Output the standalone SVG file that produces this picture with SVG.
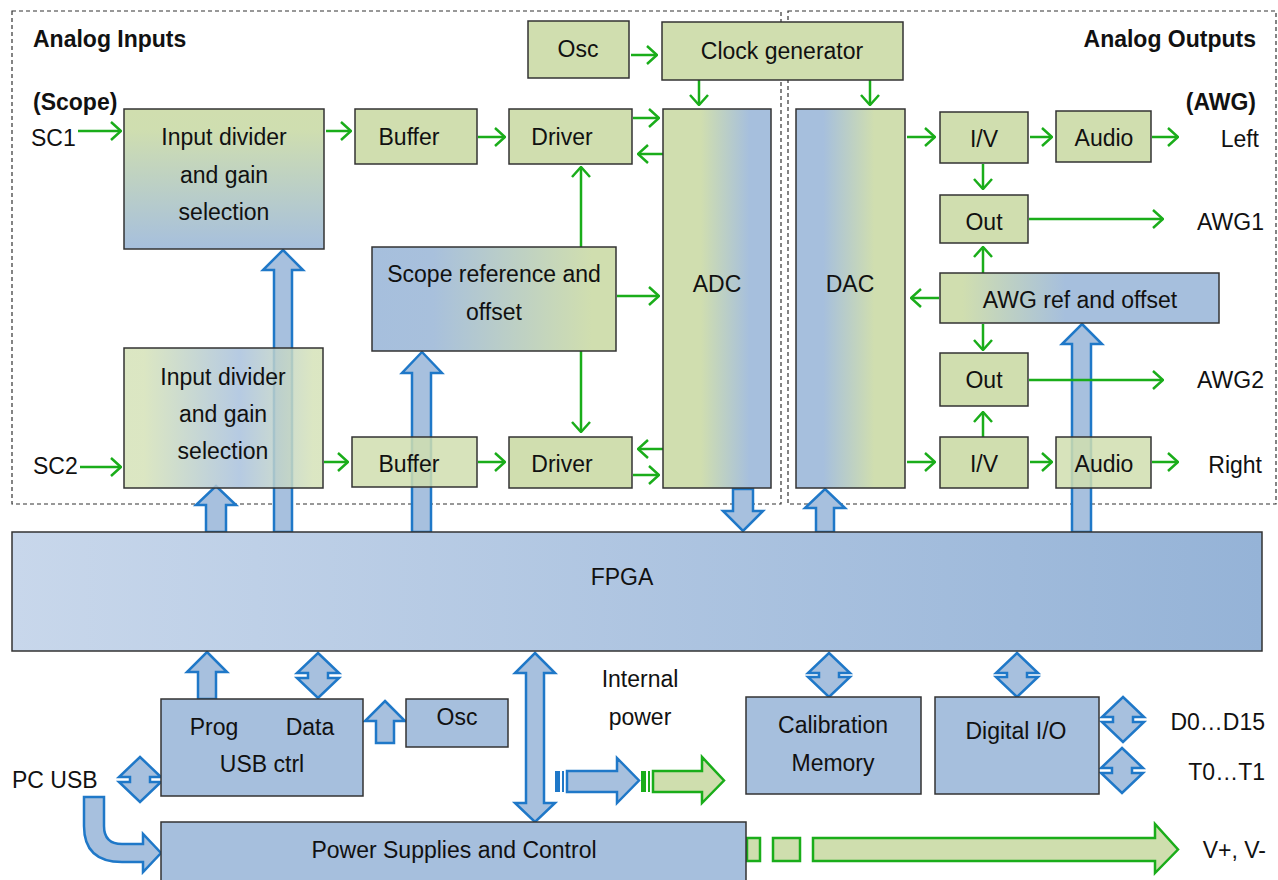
<svg xmlns="http://www.w3.org/2000/svg" width="1278" height="880" viewBox="0 0 1278 880">
<defs>
<style>
.t{font-family:"Liberation Sans",Arial,sans-serif;font-size:23px;fill:#111}
.m{text-anchor:middle}
.e{text-anchor:end}
.b{font-weight:bold;font-size:23px}
.box{stroke:#333;stroke-width:1.5}
.g{fill:#d0deaf}
.bl{fill:#a6bfdd}
.dash{fill:none;stroke:#333;stroke-width:1.2;stroke-dasharray:4 3}
.ga{fill:none;stroke:#1aad1a;stroke-width:2.5;marker-end:url(#ah)}
.ba{fill:#a7c0de;stroke:#1f78c8;stroke-width:2.5;stroke-linejoin:miter}
.gb{fill:#cfdeae;stroke:#1aad1a;stroke-width:2.5}
</style>
<marker id="ah" viewBox="0 0 12 20" refX="11" refY="10" markerWidth="12" markerHeight="20" markerUnits="userSpaceOnUse" orient="auto">
<path d="M1,1 L11,10 L1,19" fill="none" stroke="#1aad1a" stroke-width="2.5"/>
</marker>
<linearGradient id="gADC" x1="0" y1="0" x2="1" y2="0"><stop offset="0" stop-color="#d0deaf"/><stop offset="0.35" stop-color="#d0deaf"/><stop offset="0.8" stop-color="#a6bfdd"/><stop offset="1" stop-color="#a6bfdd"/></linearGradient>
<linearGradient id="gDAC" x1="0" y1="0" x2="1" y2="0"><stop offset="0" stop-color="#a6bfdd"/><stop offset="0.25" stop-color="#a6bfdd"/><stop offset="0.72" stop-color="#d0deaf"/><stop offset="1" stop-color="#d0deaf"/></linearGradient>
<linearGradient id="gScope" x1="0" y1="0" x2="1" y2="0"><stop offset="0" stop-color="#a6bfdd"/><stop offset="0.25" stop-color="#a8c0dc"/><stop offset="0.9" stop-color="#d0deaf"/><stop offset="1" stop-color="#d0deaf"/></linearGradient>
<linearGradient id="gAWG" x1="0" y1="0" x2="1" y2="0"><stop offset="0" stop-color="#d0deaf"/><stop offset="0.08" stop-color="#d0deaf"/><stop offset="0.45" stop-color="#a6bfdd"/><stop offset="1" stop-color="#a6bfdd"/></linearGradient>
<linearGradient id="gDiv1" x1="0" y1="0" x2="0" y2="1"><stop offset="0" stop-color="#d0deaf"/><stop offset="0.15" stop-color="#cfdeb0"/><stop offset="1" stop-color="#a6bfdd"/></linearGradient>
<linearGradient id="gDiv2" x1="0" y1="0" x2="1" y2="0"><stop offset="0" stop-color="#d5e2b8"/><stop offset="0.1" stop-color="#d5e2b8"/><stop offset="0.58" stop-color="#a9c1dd"/><stop offset="0.95" stop-color="#d5e2b8"/><stop offset="1" stop-color="#d5e2b8"/></linearGradient>
<linearGradient id="gFPGA" x1="0" y1="0" x2="1" y2="0"><stop offset="0" stop-color="#c8d7eb"/><stop offset="1" stop-color="#95b3d7"/></linearGradient>
</defs>
<rect width="1278" height="880" fill="#fff"/>

<g id="regions">
<rect class="dash" x="12" y="11" width="769" height="493"/>
<rect class="dash" x="788" y="11" width="488" height="493"/>
<text class="t b" x="33" y="47">Analog Inputs</text>
<text class="t b" x="33" y="110">(Scope)</text>
<text class="t b e" x="1256" y="47">Analog Outputs</text>
<text class="t b e" x="1256" y="110">(AWG)</text>
</g>

<g id="connectors">
<path class="ba" d="M283,250 L303,270 L292,270 L292,532 L274,532 L274,270 L263,270 Z"/>
<path class="ba" d="M216,486 L236,505 L226,505 L226,532 L206,532 L206,505 L196,505 Z"/>
<path class="ba" d="M422,352 L442,373 L431,373 L431,532 L412,532 L412,373 L402,373 Z"/>
<path class="ba" d="M733,489 L753,489 L753,511 L763,511 L743,531 L723,511 L733,511 Z"/>
<path class="ba" d="M825,489 L845,508 L834,508 L834,532 L816,532 L816,508 L805,508 Z"/>
<path class="ba" d="M1082,324 L1102,344 L1091,344 L1091,532 L1072,532 L1072,344 L1062,344 Z"/>
<path class="ba" d="M207,652 L227,672 L216,672 L216,699 L198,699 L198,672 L187,672 Z"/>
<path class="ba" d="M385,701 L405,721 L394,721 L394,743 L376,743 L376,721 L365,721 Z"/>
<path class="ba" d="M318,653 L339,673 L328,673 L328,678 L339,678 L318,698 L297,678 L308,678 L308,673 L297,673 Z"/>
<path class="ba" d="M140,757 L161,777 L150,777 L150,782 L161,782 L140,802 L119,782 L130,782 L130,777 L119,777 Z"/>
<path class="ba" d="M829,653 L850,673 L839,673 L839,677 L850,677 L829,697 L808,677 L819,677 L819,673 L808,673 Z"/>
<path class="ba" d="M1017,653 L1038,673 L1027,673 L1027,677 L1038,677 L1017,697 L996,677 L1007,677 L1007,673 L996,673 Z"/>
<path class="ba" d="M1123,697 L1144,717 L1133,717 L1133,722 L1144,722 L1123,742 L1102,722 L1113,722 L1113,717 L1102,717 Z"/>
<path class="ba" d="M1122,748 L1143,768 L1132,768 L1132,773 L1143,773 L1122,793 L1101,773 L1112,773 L1112,768 L1101,768 Z"/>
<path class="ba" d="M535,653 L555,673 L544,673 L544,803 L555,803 L535,822 L515,803 L526,803 L526,673 L515,673 Z"/>
<path class="ba" d="M84,797 L104,797 L104,826 Q104,844 122,844 L143,844 L143,834 L161,853 L143,872 L143,862 L122,862 Q84,862 84,826 Z"/>
<rect x="555" y="771" width="5" height="21" fill="#1f78c8"/>
<rect x="562" y="771" width="2" height="21" fill="#1f78c8"/>
<path class="ba" d="M567,771 L617,771 L617,758 L639,780.5 L617,803 L617,792 L567,792 Z"/>
<rect x="641" y="771" width="5" height="21" fill="#1aad1a"/>
<rect x="648" y="771" width="2" height="21" fill="#1aad1a"/>
<path class="gb" d="M653,771 L702,771 L702,757 L724,780.5 L702,803 L702,792 L653,792 Z"/>
<rect class="gb" x="747" y="838" width="13" height="23"/>
<rect class="gb" x="773" y="838" width="27" height="23"/>
<path class="gb" d="M813,838 L1155,838 L1155,824 L1178,849.5 L1155,873 L1155,861 L813,861 Z"/>
<line class="ga" x1="78" y1="131" x2="121" y2="131"/>
<line class="ga" x1="326" y1="131" x2="351" y2="131"/>
<line class="ga" x1="478" y1="137" x2="505" y2="137"/>
<line class="ga" x1="633" y1="118" x2="659" y2="118"/>
<line class="ga" x1="663" y1="154" x2="638" y2="154"/>
<line class="ga" x1="581" y1="247" x2="581" y2="167"/>
<line class="ga" x1="631" y1="55" x2="657" y2="55"/>
<line class="ga" x1="699" y1="80" x2="699" y2="105"/>
<line class="ga" x1="870" y1="80" x2="870" y2="105"/>
<line class="ga" x1="617" y1="296" x2="659" y2="296"/>
<line class="ga" x1="581" y1="351" x2="581" y2="432"/>
<line class="ga" x1="80" y1="467" x2="121" y2="467"/>
<line class="ga" x1="324" y1="462" x2="348" y2="462"/>
<line class="ga" x1="478" y1="462" x2="505" y2="462"/>
<line class="ga" x1="663" y1="449" x2="638" y2="449"/>
<line class="ga" x1="633" y1="475" x2="659" y2="475"/>
<line class="ga" x1="907" y1="137" x2="935" y2="137"/>
<line class="ga" x1="1030" y1="137" x2="1052" y2="137"/>
<line class="ga" x1="1152" y1="137" x2="1178" y2="137"/>
<line class="ga" x1="983" y1="164" x2="983" y2="189"/>
<line class="ga" x1="1029" y1="219" x2="1163" y2="219"/>
<line class="ga" x1="983" y1="273" x2="983" y2="247"/>
<line class="ga" x1="939" y1="298" x2="911" y2="298"/>
<line class="ga" x1="983" y1="324" x2="983" y2="350"/>
<line class="ga" x1="1029" y1="380" x2="1163" y2="380"/>
<line class="ga" x1="983" y1="437" x2="983" y2="412"/>
<line class="ga" x1="907" y1="462" x2="935" y2="462"/>
<line class="ga" x1="1030" y1="462" x2="1052" y2="462"/>
<line class="ga" x1="1152" y1="462" x2="1178" y2="462"/>
</g>

<g id="osc-top"><rect class="box g" x="528" y="21" width="101" height="57"/><text class="t m" x="578" y="57">Osc</text></g>
<g id="clock"><rect class="box g" x="662" y="22" width="241" height="58"/><text class="t m" x="782" y="59">Clock generator</text></g>
<g id="div1"><rect class="box" fill="url(#gDiv1)" x="124" y="109" width="200" height="140"/>
<text class="t m" x="224" y="145">Input divider</text><text class="t m" x="224" y="183">and gain</text><text class="t m" x="224" y="220">selection</text></g>
<g id="div2"><rect class="box" fill="url(#gDiv2)" fill-opacity="0.85" x="124" y="348" width="199" height="140"/>
<text class="t m" x="223" y="385">Input divider</text><text class="t m" x="223" y="422">and gain</text><text class="t m" x="223" y="459">selection</text></g>
<g id="buffer1"><rect class="box g" x="355" y="109" width="122" height="55"/><text class="t m" x="409" y="145">Buffer</text></g>
<g id="driver1"><rect class="box g" x="509" y="109" width="123" height="55"/><text class="t m" x="562" y="145">Driver</text></g>
<g id="scope-ref"><rect class="box" fill="url(#gScope)" x="372" y="247" width="244" height="104"/>
<text class="t m" x="494" y="282">Scope reference and</text><text class="t m" x="494" y="320">offset</text></g>
<g id="buffer2"><rect class="box g" fill-opacity="0.85" x="352" y="437" width="125" height="50"/><text class="t m" x="409" y="472">Buffer</text></g>
<g id="driver2"><rect class="box g" x="509" y="437" width="123" height="51"/><text class="t m" x="562" y="472">Driver</text></g>
<g id="adc"><rect class="box" fill="url(#gADC)" x="663" y="109" width="108" height="379"/><text class="t m" x="717" y="292">ADC</text></g>
<g id="dac"><rect class="box" fill="url(#gDAC)" x="796" y="109" width="109" height="379"/><text class="t m" x="850" y="292">DAC</text></g>
<g id="iv1"><rect class="box g" x="940" y="112" width="88" height="51"/><text class="t m" x="984" y="147">I/V</text></g>
<g id="audio1"><rect class="box g" x="1056" y="111" width="95" height="51"/><text class="t m" x="1104" y="146">Audio</text></g>
<g id="out1"><rect class="box g" x="940" y="195" width="88" height="48"/><text class="t m" x="984" y="230">Out</text></g>
<g id="awg-ref"><rect class="box" fill="url(#gAWG)" x="940" y="273" width="279" height="50"/><text class="t m" x="1080" y="308">AWG ref and offset</text></g>
<g id="out2"><rect class="box g" x="940" y="353" width="88" height="53"/><text class="t m" x="984" y="388">Out</text></g>
<g id="iv2"><rect class="box g" x="940" y="437" width="88" height="51"/><text class="t m" x="984" y="472">I/V</text></g>
<g id="audio2"><rect class="box g" fill-opacity="0.85" x="1056" y="437" width="95" height="51"/><text class="t m" x="1104" y="472">Audio</text></g>
<g id="labels">
<text class="t" x="31" y="146">SC1</text>
<text class="t" x="33" y="474">SC2</text>
<text class="t e" x="1259" y="147">Left</text>
<text class="t e" x="1264" y="230">AWG1</text>
<text class="t e" x="1264" y="388">AWG2</text>
<text class="t e" x="1262" y="473">Right</text>
<text class="t m" x="640" y="687">Internal</text>
<text class="t m" x="640" y="725">power</text>
<text class="t e" x="1265" y="730">D0…D15</text>
<text class="t e" x="1265" y="780">T0…T1</text>
<text class="t" x="12" y="788">PC USB</text>
<text class="t e" x="1266" y="858">V+, V-</text>
</g>
<g id="fpga"><rect class="box" fill="url(#gFPGA)" x="12" y="532" width="1250" height="119"/><text class="t m" x="622" y="585">FPGA</text></g>
<g id="usb"><rect class="box bl" x="161" y="699" width="202" height="97"/>
<text class="t m" x="214" y="735">Prog</text><text class="t m" x="310" y="735">Data</text><text class="t m" x="262" y="772">USB ctrl</text></g>
<g id="osc-bottom"><rect class="box bl" x="406" y="699" width="102" height="48"/><text class="t m" x="457" y="725">Osc</text></g>
<g id="power"><rect class="box bl" x="161" y="822" width="585" height="70"/><text class="t m" x="454" y="858">Power Supplies and Control</text></g>
<g id="calibration"><rect class="box bl" x="746" y="697" width="175" height="97"/>
<text class="t m" x="833" y="733">Calibration</text><text class="t m" x="833" y="771">Memory</text></g>
<g id="digital-io"><rect class="box bl" x="935" y="697" width="164" height="97"/><text class="t m" x="1016" y="739">Digital I/O</text></g>
</svg>
